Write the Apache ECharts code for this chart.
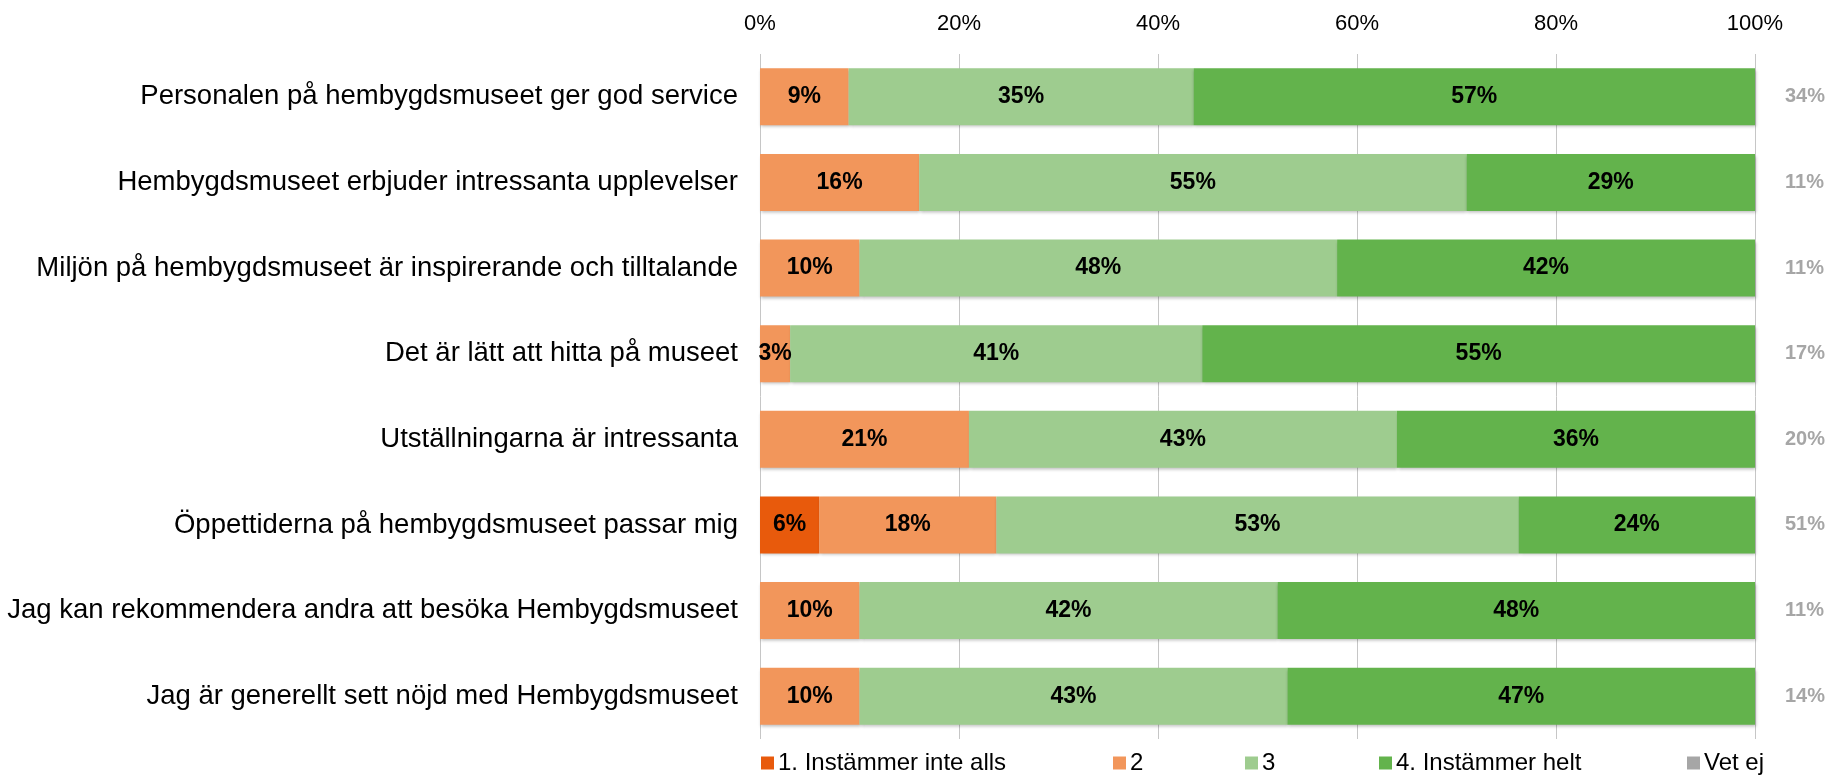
<!DOCTYPE html>
<html lang="sv">
<head>
<meta charset="utf-8">
<title>Hembygdsmuseet</title>
<script src="https://cdn.jsdelivr.net/npm/echarts@6/dist/echarts.min.js"></script>
<style>
  html, body { margin: 0; padding: 0; background: #fff; }
  #chart { width: 1830px; height: 775px; }
</style>
</head>
<body>
<div id="chart"></div>
<script>
// påståenden, uppifrån och ned
const categories = [
  'Personalen på hembygdsmuseet ger god service',
  'Hembygdsmuseet erbjuder intressanta upplevelser',
  'Miljön på hembygdsmuseet är inspirerande och tilltalande',
  'Det är lätt att hitta på museet',
  'Utställningarna är intressanta',
  'Öppettiderna på hembygdsmuseet passar mig',
  'Jag kan rekommendera andra att besöka Hembygdsmuseet',
  'Jag är generellt sett nöjd med Hembygdsmuseet'
]
// andel svar per alternativ (%)
const inteAlls = [0, 0, 0, 0, 0, 6, 0, 0]
const tva = [9, 16, 10, 3, 21, 18, 10, 10]
const tre = [35, 55, 48, 41, 43, 53, 42, 43]
const helt = [57, 29, 42, 55, 36, 24, 48, 47]
// andel "vet ej" visas till höger om staplarna
const vetEj = [34, 11, 11, 17, 20, 51, 11, 14]
const xTicks = [0, 20, 40, 60, 80, 100]

const names = ['1. Instämmer inte alls', '2', '3', '4. Instämmer helt', 'Vet ej']
const colors = ['#e85a0c', '#f2965b', '#9ecc8f', '#63b34c', '#a6a6a6']
const font = '"Liberation Sans", Arial, Helvetica, sans-serif'

// varje stapel räknas om till 100 %
const rows = [inteAlls, tva, tre, helt]
const sums = categories.map((c, i) => rows.reduce((s, r) => s + r[i], 0))

function barSeries(name, arr, color) {
  return {
    name: name,
    type: 'bar',
    stack: 'total',
    barWidth: 57,
    itemStyle: {
      color: color,
      shadowColor: 'rgba(0, 0, 0, 0.25)',
      shadowBlur: 3,
      shadowOffsetX: 1,
      shadowOffsetY: 2
    },
    label: {
      show: true,
      position: 'inside',
      color: '#000',
      fontFamily: font,
      fontWeight: 'bold',
      fontSize: 23,
      formatter: p => (p.data.raw > 0 ? p.data.raw + '%' : '')
    },
    data: arr.map((v, i) => ({ value: v / sums[i] * 100, raw: v }))
  }
}

// legendens startpunkter
const legendLeft = [761, 1113, 1245, 1379, 1687]

const myChart = echarts.init(document.getElementById('chart'))
myChart.setOption({
  animation: false,
  textStyle: { fontFamily: font },
  grid: { left: 760, right: 75, top: 54, bottom: 36 },
  legend: names.map((n, i) => ({
    data: [n],
    left: legendLeft[i],
    top: 751,
    padding: 0,
    icon: 'rect',
    itemWidth: 13,
    itemHeight: 13,
    itemGap: 6,
    textStyle: { color: '#000', fontSize: 24, fontFamily: font, padding: [0, 0, 0, -1] }
  })),
  xAxis: {
    type: 'value',
    position: 'top',
    min: 0,
    max: 100,
    interval: 20,
    axisLine: { show: false },
    axisTick: { show: false },
    axisLabel: {
      color: '#000',
      fontSize: 22,
      margin: 19,
      formatter: v => (xTicks.includes(v) ? v + '%' : '')
    },
    splitLine: { lineStyle: { color: '#c6c6c6', width: 1 } }
  },
  yAxis: [
    {
      type: 'category',
      inverse: true,
      data: categories,
      axisLine: { show: false },
      axisTick: { show: false },
      axisLabel: { color: '#000', fontSize: 27.5, margin: 22 }
    },
    {
      type: 'category',
      inverse: true,
      position: 'right',
      data: vetEj.map(v => v + '%'),
      axisLine: { show: false },
      axisTick: { show: false },
      axisLabel: { color: '#a6a6a6', fontSize: 20, fontWeight: 'bold', margin: 30, align: 'left' }
    }
  ],
  series: [
    barSeries(names[0], inteAlls, colors[0]),
    barSeries(names[1], tva, colors[1]),
    barSeries(names[2], tre, colors[2]),
    barSeries(names[3], helt, colors[3]),
    // bara för legenden
    { name: names[4], type: 'bar', stack: 'total', itemStyle: { color: colors[4] }, data: [] }
  ]
})

//自适应大小
window.onresize = function () {
  myChart.resize()
}
</script>
</body>
</html>
